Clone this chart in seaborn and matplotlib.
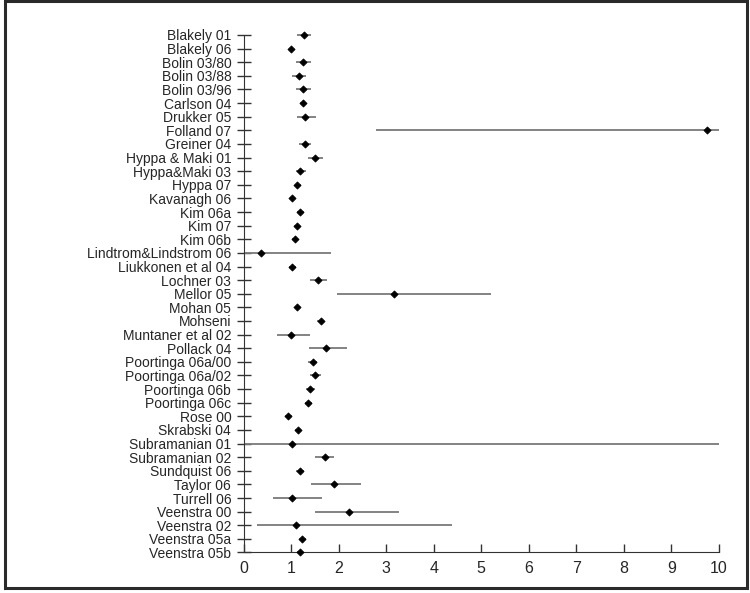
import pandas as pd
import numpy as np
import matplotlib
matplotlib.use("Agg")
import matplotlib.pyplot as plt
from matplotlib.patches import Rectangle
import seaborn as sns

# ------------------------------------------------------------
# data
# ------------------------------------------------------------
studies = [
    "Blakely 01", "Blakely 06", "Bolin 03/80", "Bolin 03/88", "Bolin 03/96",
    "Carlson 04", "Drukker 05", "Folland 07", "Greiner 04", "Hyppa & Maki 01",
    "Hyppa&Maki 03", "Hyppa 07", "Kavanagh 06", "Kim 06a", "Kim 07", "Kim 06b",
    "Lindtrom&Lindstrom 06", "Liukkonen et al 04", "Lochner 03", "Mellor 05",
    "Mohan 05", "Mohseni", "Muntaner et al 02", "Pollack 04",
    "Poortinga 06a/00", "Poortinga 06a/02", "Poortinga 06b", "Poortinga 06c",
    "Rose 00", "Skrabski 04", "Subramanian 01", "Subramanian 02",
    "Sundquist 06", "Taylor 06", "Turrell 06", "Veenstra 00", "Veenstra 02",
    "Veenstra 05a", "Veenstra 05b",
]
estimate = [1.26, 1.00, 1.25, 1.16, 1.25, 1.24, 1.29, 9.75, 1.29, 1.51,
            1.19, 1.13, 1.02, 1.19, 1.13, 1.08, 0.36, 1.02, 1.57, 3.17,
            1.13, 1.62, 0.99, 1.73, 1.45, 1.49, 1.40, 1.36, 0.94, 1.14,
            1.02, 1.70, 1.19, 1.89, 1.01, 2.22, 1.09, 1.23, 1.19]
lower = [1.12, 0.97, 1.11, 1.02, 1.11, 1.18, 1.12, 2.79, 1.16, 1.36,
         1.09, 1.07, 0.97, 1.12, 1.06, 1.02, 0.02, 0.96, 1.39, 1.97,
         1.07, 1.55, 0.69, 1.37, 1.36, 1.39, 1.31, 1.28, 0.86, 1.07,
         0.00, 1.50, 1.11, 1.42, 0.62, 1.50, 0.27, 1.16, 1.12]
upper = [1.42, 1.03, 1.42, 1.32, 1.42, 1.30, 1.52, 10.0, 1.42, 1.67,
         1.32, 1.20, 1.07, 1.26, 1.19, 1.14, 1.83, 1.10, 1.76, 5.20,
         1.19, 1.69, 1.40, 2.18, 1.54, 1.62, 1.50, 1.44, 1.02, 1.21,
         10.0, 1.90, 1.26, 2.46, 1.64, 3.27, 4.39, 1.31, 1.25]
x_ticks = list(range(0, 11))

df = pd.DataFrame({"study": studies, "est": estimate, "lo": lower, "hi": upper})

# ------------------------------------------------------------
# plot
# ------------------------------------------------------------
sns.set_style("ticks")
plt.rcParams["font.family"] = ["Liberation Sans", "DejaVu Sans"]

fig = plt.figure(figsize=(7.5, 5.93), dpi=100)
ax = fig.add_axes([0.325, 0.0683, 0.6335, 0.8727])

ypos = np.arange(len(df))
lines = ax.hlines(ypos, df["lo"], df["hi"], color="#7a7a7a", lw=1.3, zorder=2)
lines.set_clip_on(False)
sns.scatterplot(data=df, x="est", y=ypos, marker="D", s=13, color="black",
                edgecolor="black", linewidth=0.6, zorder=3, ax=ax, legend=False,
                clip_on=False)

ax.set_xlim(0, 10)
ax.set_ylim(len(df) - 1, 0)
ax.set_yticks(ypos)
ax.set_yticklabels(df["study"], fontsize=10)
ax.set_xticks(x_ticks)
ax.set_xticklabels([str(t) for t in x_ticks], fontsize=11.5)
ax.set_xlabel("")
ax.set_ylabel("")

for side in ["top", "right"]:
    ax.spines[side].set_visible(False)
ax.spines["left"].set_color("#333333")
ax.spines["bottom"].set_color("#333333")
ax.tick_params(axis="y", direction="inout", length=10, width=1, color="#333333", pad=4)
ax.tick_params(axis="x", direction="in", length=6, width=1, color="#333333", pad=6)

# dark frame around the whole picture
fig.patches.append(Rectangle((0.0067, 0.0084), 0.9893, 0.9896, transform=fig.transFigure,
                             fill=False, edgecolor="#2a2a2a", lw=2.2))

fig.savefig("out.png", dpi=100)
